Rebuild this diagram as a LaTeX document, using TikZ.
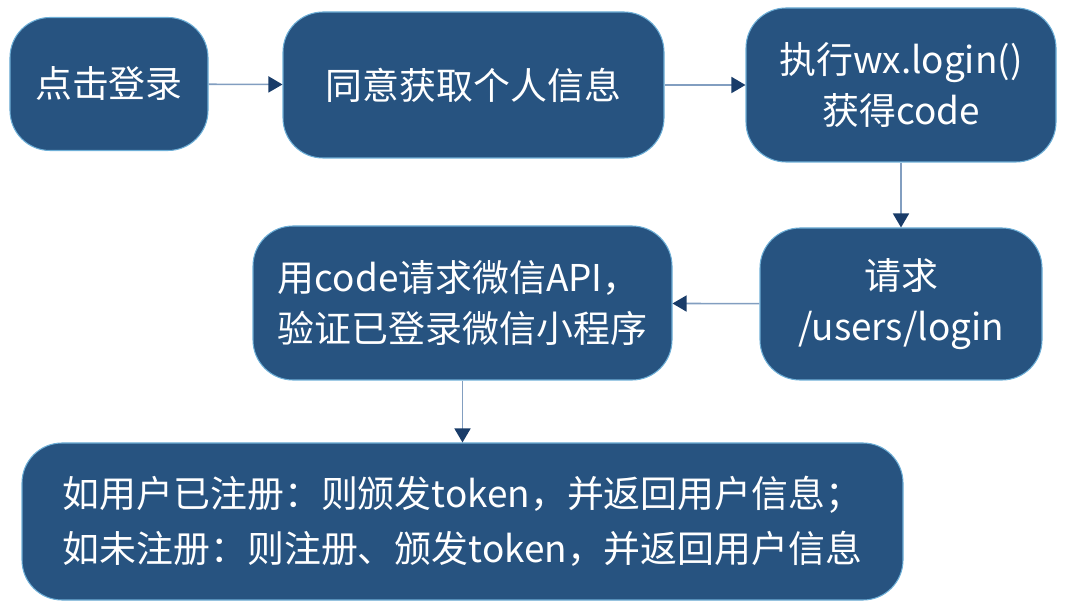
\documentclass[tikz,border=0pt]{standalone}
\usepackage{fontspec}
\setmainfont{Noto Sans CJK SC}
\definecolor{BoxBlue}{RGB}{39, 83, 128}
\definecolor{EdgeBlue}{RGB}{110, 175, 215}
\definecolor{LineBlue}{RGB}{130, 158, 192}
\definecolor{TipBlue}{RGB}{25, 60, 105}
\usetikzlibrary{arrows.meta, positioning}

\begin{document}
\begin{tikzpicture}[
  box/.style={draw=EdgeBlue, line width=0.6pt, fill=BoxBlue, rounded corners=0.8cm, text=white, align=center, font=\fontsize{21}{29}\selectfont},
  arr/.style={-{Triangle[length=2.8mm, width=3.2mm, color=TipBlue]}, LineBlue, line width=0.9pt}]
\useasboundingbox (0, 0) rectangle (21.3, -12.16);
\node[box, minimum width=3.96cm, minimum height=2.66cm] (c1) at (2.18, -1.68) {点击登录};
\node[box, minimum width=7.62cm, minimum height=2.92cm] (c2) at (9.47, -1.70) {同意获取个人信息};
\node[box, minimum width=6.2cm, minimum height=3.08cm] (c3) at (18.02, -1.70) {执行wx.login()\\获得code};
\node[box, minimum width=5.64cm, minimum height=3.04cm] (c4) at (18.02, -6.08) {请求\\/users/login};
\node[box, align=left, minimum width=8.38cm, minimum height=3.08cm] (c5) at (9.25, -6.06) {用code请求微信API，\\验证已登录微信小程序};
\node[box, align=left, font=\fontsize{21}{31}\selectfont, minimum width=17.62cm, minimum height=3.14cm] (c6) at (9.25, -10.43) {如用户已注册：则颁发token，并返回用户信息；\\如未注册：则注册、颁发token，并返回用户信息};
\draw[arr] (c1) -- (c2); \draw[arr] (c2) -- (c3); \draw[arr] (c3) -- (c4);
\draw[arr] (c4) -- (c5); \draw[arr] (c5) -- (c6);
\end{tikzpicture}
\end{document}
